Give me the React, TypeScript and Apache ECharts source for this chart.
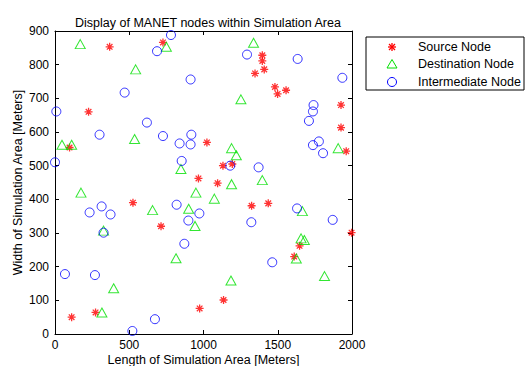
import React, { useEffect, useRef } from "react";
import * as echarts from "echarts";

const titleText = "Display of MANET nodes within Simulation Area";
const xAxisName = "Length of Simulation Area [Meters]";
const yAxisName = "Width of Simulation Area [Meters]";
const legendNames = ["Source Node", "Destination Node", "Intermediate Node"];

const sourceNodes: number[][] = [
  [368, 853], [727, 866], [226, 660], [98, 554], [966, 462], [1396, 828],
  [1396, 811], [1409, 786], [1347, 774], [1481, 734], [1499, 713], [1556, 724],
  [1926, 680], [1926, 613], [1023, 569], [1961, 543], [1131, 500], [1194, 505],
  [1095, 448], [525, 390], [714, 320], [112, 50], [273, 64], [974, 76],
  [1324, 381], [1436, 388], [1647, 262], [1997, 301], [1611, 230], [1135, 101],
];

const destinationNodes: number[][] = [
  [170, 861], [750, 853], [543, 786], [536, 579], [47, 562], [112, 562],
  [848, 490], [1337, 865], [1252, 697], [1907, 552], [1189, 552], [1221, 531],
  [1396, 457], [1189, 445], [175, 420], [949, 420], [657, 368], [900, 372],
  [943, 321], [327, 307], [815, 225], [395, 136], [316, 64], [1073, 402],
  [1666, 365], [1657, 284], [1679, 279], [1625, 224], [1815, 172], [1185, 159],
];

const intermediateNodes: number[][] = [
  [781, 888], [687, 840], [913, 756], [469, 717], [9, 661], [619, 628],
  [300, 592], [727, 588], [918, 592], [839, 566], [913, 563], [0, 510],
  [853, 514], [1293, 830], [1634, 817], [1935, 761], [1741, 680], [1737, 661],
  [1710, 633], [1777, 572], [1737, 561], [1805, 537], [1180, 500], [1371, 495],
  [233, 361], [314, 379], [374, 355], [819, 384], [972, 358], [898, 337],
  [327, 301], [871, 268], [67, 178], [269, 175], [673, 44], [521, 9],
  [1630, 373], [1322, 332], [1870, 339], [1463, 213],
];

const xMin = 0, xMax = 2000, xStep = 500;
const yMin = 0, yMax = 900, yStep = 100;

const RED = "#ff0000";
const GREEN = "#00e000";
const BLUE = "#0000ff";
const FONT = "Liberation Sans, Arial, sans-serif";
const FS = 12.5;
const STAR = "path://M5,0L5,10M0,5L10,5M1.5,1.5L8.5,8.5M1.5,8.5L8.5,1.5";

export default function App() {
  const ref = useRef<HTMLDivElement>(null);
  useEffect(() => {
    if (!ref.current) return;
    const chart = echarts.init(ref.current, null, { renderer: "svg" });
    const axisCommon = {
      axisLine: { show: true, onZero: false, lineStyle: { color: "#000", width: 1 } },
      axisTick: { show: true, inside: true, length: 4, lineStyle: { color: "#000" } },
      splitLine: { show: false },
    };
    const lx = 392;
    const ly = [47, 64, 82];
    chart.setOption({
      animation: false,
      backgroundColor: "#fff",
      title: {
        text: titleText,
        left: 203,
        textAlign: "center",
        top: 11,
        textStyle: { fontFamily: FONT, fontSize: FS, fontWeight: "normal", color: "#000" },
      },
      grid: { left: 55, right: 174, top: 31, bottom: 32, containLabel: false, outerBoundsMode: "none" },
      xAxis: [
        {
          type: "value", min: xMin, max: xMax, interval: xStep, position: "bottom",
          name: xAxisName, nameLocation: "middle", nameGap: 19, nameMoveOverlap: false,
          nameTextStyle: { fontFamily: FONT, fontSize: FS, color: "#000" },
          axisLabel: { fontFamily: FONT, fontSize: 12, color: "#000", margin: 5, formatter: (v: number) => String(v) },
          ...axisCommon,
        },
        {
          type: "value", min: xMin, max: xMax, interval: xStep, position: "top",
          axisLabel: { show: false }, ...axisCommon,
        },
      ],
      yAxis: [
        {
          type: "value", min: yMin, max: yMax, interval: yStep, position: "left",
          name: yAxisName, nameLocation: "middle", nameGap: 31, nameMoveOverlap: false,
          nameTextStyle: { fontFamily: FONT, fontSize: FS, color: "#000" },
          axisLabel: { fontFamily: FONT, fontSize: 12, color: "#000", margin: 6, formatter: (v: number) => String(v) },
          ...axisCommon,
        },
        {
          type: "value", min: yMin, max: yMax, interval: yStep, position: "right",
          axisLabel: { show: false }, ...axisCommon,
        },
      ],
      series: [
        {
          name: legendNames[0], type: "scatter", data: sourceNodes, symbol: STAR, symbolSize: 8,
          itemStyle: { color: "rgba(0,0,0,0)", borderColor: RED, borderWidth: 1.3 },
        },
        {
          name: legendNames[1], type: "scatter", data: destinationNodes, symbol: "triangle", symbolSize: [10, 9],
          itemStyle: { color: "rgba(0,0,0,0)", borderColor: GREEN, borderWidth: 1 },
        },
        {
          name: legendNames[2], type: "scatter", data: intermediateNodes, symbol: "circle", symbolSize: 9,
          itemStyle: { color: "rgba(0,0,0,0)", borderColor: BLUE, borderWidth: 1 },
        },
      ],
      graphic: [
        { type: "rect", shape: { x: 366, y: 37, width: 158, height: 53 }, style: { fill: "#fff", stroke: "#000", lineWidth: 1 } },
        { type: "line", shape: { x1: lx, y1: ly[0] - 4, x2: lx, y2: ly[0] + 4 }, style: { stroke: RED, lineWidth: 1.3 } },
        { type: "line", shape: { x1: lx - 4, y1: ly[0], x2: lx + 4, y2: ly[0] }, style: { stroke: RED, lineWidth: 1.3 } },
        { type: "line", shape: { x1: lx - 3, y1: ly[0] - 3, x2: lx + 3, y2: ly[0] + 3 }, style: { stroke: RED, lineWidth: 1.3 } },
        { type: "line", shape: { x1: lx - 3, y1: ly[0] + 3, x2: lx + 3, y2: ly[0] - 3 }, style: { stroke: RED, lineWidth: 1.3 } },
        { type: "polygon", shape: { points: [[lx, ly[1] - 4.5], [lx + 5, ly[1] + 4], [lx - 5, ly[1] + 4]] }, style: { fill: "none", stroke: GREEN, lineWidth: 1 } },
        { type: "circle", shape: { cx: lx, cy: ly[2], r: 4.5 }, style: { fill: "none", stroke: BLUE, lineWidth: 1 } },
        ...legendNames.map((n, i) => ({
          type: "text", x: 418, y: ly[i],
          style: { text: n, fill: "#000", font: `${FS}px ${FONT}`, verticalAlign: "middle", align: "left" },
        })),
      ],
    });
    return () => chart.dispose();
  }, []);
  return (
    <div
      ref={ref}
      style={{ position: "fixed", left: 0, top: 0, width: 526, height: 366, background: "#fff" }}
    />
  );
}
